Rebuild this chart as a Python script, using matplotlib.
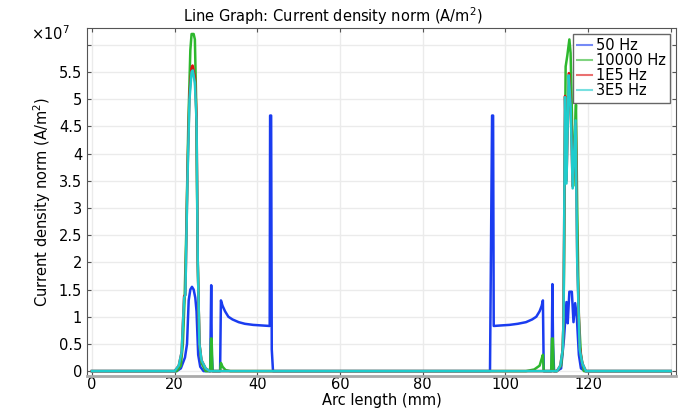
import matplotlib.pyplot as plt

# arc length (mm) and current density norm (x1e7 A/m^2)
x_50 = [0, 20.5, 21.5, 22.5, 23.0, 23.4, 23.8, 24.2, 24.6, 25.0, 25.3, 25.7, 26.2, 27.0,
        28.6, 28.85, 29.0, 29.2, 31.0, 31.2, 31.6, 32.2, 33.0, 34.0, 35.5, 37.0, 39.0, 41.0,
        43.0, 43.1, 43.35, 43.5, 43.8, 96.3, 96.8, 97.05, 97.2, 99.0, 101.0, 103.0, 105.0,
        106.5, 107.5, 108.3, 108.8, 109.1, 109.3, 111.2, 111.4, 111.55, 111.8, 112.4, 113.5,
        114.2, 114.8, 115.1, 115.5, 116.1, 116.5, 116.9, 117.3, 117.8, 118.3, 119.3, 140]
y_50 = [0, 0, 0.05, 0.25, 0.5, 1.3, 1.5, 1.55, 1.5, 1.35, 1.1, 0.3, 0.08, 0,
        0, 1.58, 0.3, 0, 0, 1.3, 1.2, 1.1, 1.0, 0.95, 0.9, 0.87, 0.85, 0.84,
        0.83, 4.7, 4.7, 0.4, 0, 0, 4.7, 4.7, 0.83, 0.84, 0.85, 0.87, 0.9,
        0.95, 1.0, 1.1, 1.2, 1.3, 0, 0, 1.6, 0.5, 0, 0, 0.05,
        0.6, 1.27, 0.88, 1.46, 1.46, 0.9, 1.25, 1.0, 0.3, 0.05, 0, 0]

x_1e4 = [0, 20.5, 21.5, 22.0, 22.4, 22.8, 23.3, 23.8, 24.1, 24.6, 24.9, 25.2, 25.6, 26.0,
         26.5, 27.5, 28.6, 28.8, 28.95, 29.15, 31.0, 31.2, 31.6, 32.3, 33.5, 105.0, 107.0,
         108.3, 108.9, 109.1, 109.3, 111.1, 111.3, 111.5, 111.7, 112.5, 113.5, 113.9, 114.1,
         114.6, 115.0, 115.5, 115.8, 116.1, 116.4, 116.8, 117.1, 117.4, 117.8, 118.3, 119.0, 140]
y_1e4 = [0, 0, 0.1, 0.5, 1.3, 2.5, 4.5, 5.9, 6.2, 6.2, 6.1, 5.0, 2.0, 0.5,
         0.15, 0, 0, 0.6, 0.6, 0, 0, 0.15, 0.08, 0.02, 0, 0, 0.03,
         0.1, 0.25, 0.3, 0, 0, 0.6, 0.6, 0, 0, 0.1, 0.4, 1.0,
         5.6, 5.8, 6.1, 5.85, 4.8, 3.4, 4.3, 4.9, 3.0, 1.0, 0.3, 0, 0]

x_1e5 = [0, 20.0, 21.0, 21.7, 22.3, 22.6, 23.1, 23.6, 24.1, 24.35, 24.9, 25.3, 25.6, 26.0,
         26.5, 27.5, 28.5, 112.5, 113.3, 113.9, 114.1, 114.45, 114.8, 115.4, 115.8, 116.3,
         117.05, 117.4, 118.0, 118.6, 119.5, 140]
y_1e5 = [0, 0, 0.1, 0.35, 1.38, 1.4, 3.6, 5.1, 5.58, 5.62, 5.4, 4.7, 2.0, 0.5,
         0.2, 0.05, 0, 0, 0.1, 0.4, 1.0, 5.06, 3.5, 5.48, 4.95, 3.4,
         4.56, 2.1, 0.45, 0.15, 0, 0]

x_3e5 = [0, 20.0, 21.0, 21.7, 22.3, 22.6, 23.1, 23.6, 24.1, 24.4, 24.9, 25.3, 25.6, 26.0,
         26.5, 27.5, 28.5, 112.5, 113.3, 113.9, 114.1, 114.45, 114.8, 115.35, 115.8, 116.3,
         117.0, 117.4, 118.0, 118.6, 119.5, 140]
y_3e5 = [0, 0, 0.1, 0.35, 1.35, 1.4, 3.5, 5.0, 5.5, 5.53, 5.3, 4.6, 2.0, 0.5,
         0.2, 0.05, 0, 0, 0.1, 0.4, 1.0, 5.04, 3.45, 5.44, 4.9, 3.36,
         4.61, 2.0, 0.4, 0.15, 0, 0]

series = [(x_50, y_50, '50 Hz', '#1a3cf0'),
          (x_1e4, y_1e4, '10000 Hz', '#2db82d'),
          (x_1e5, y_1e5, '1E5 Hz', '#dd1111'),
          (x_3e5, y_3e5, '3E5 Hz', '#1fcccc')]

y_ticks = [0, 0.5, 1, 1.5, 2, 2.5, 3, 3.5, 4, 4.5, 5, 5.5, 6]
y_tick_labels = ['0', '0.5', '1', '1.5', '2', '2.5', '3', '3.5', '4', '4.5', '5', '5.5', '']
x_ticks = [0, 20, 40, 60, 80, 100, 120, 140]
x_tick_labels = ['0', '20', '40', '60', '80', '100', '120', '']

fs = 10.5

fig = plt.figure(figsize=(6.83, 4.08), dpi=100)
ax = fig.add_axes([87 / 683, 32 / 408, 589 / 683, 348 / 408])

for xs, ys, name, col in series:
    ax.plot(xs, ys, color=col, lw=1.8, label=name)

ax.set_xlim(-1.2, 141.3)
ax.set_ylim(-0.09, 6.31)
ax.set_xticks(x_ticks)
ax.set_xticklabels(x_tick_labels)
ax.set_yticks(y_ticks)
ax.set_yticklabels(y_tick_labels)
ax.tick_params(direction='in', length=3, labelsize=fs, top=True, right=True,
               labeltop=False, labelright=False, color='#555555')
ax.tick_params(axis='x', pad=1)
ax.grid(True, color='#ebebeb', lw=1)
ax.set_axisbelow(True)
for side in ['left', 'right', 'top']:
    ax.spines[side].set_color('#555555')
ax.spines['bottom'].set_color('#aaaaaa')
ax.spines['bottom'].set_linewidth(2)

fig.text(333 / 683, 1 - 16 / 408, 'Line Graph: Current density norm (A/m$^2$)',
         fontsize=fs, ha='center', va='center')
ax.set_xlabel('Arc length (mm)', fontsize=fs, labelpad=0.5)
ax.set_ylabel('Current density norm (A/m$^2$)', fontsize=fs)
fig.text(0.045, 1 - 40 / 408, r'$\times$10$^7$', fontsize=fs)

leg = ax.legend(loc='upper right', fontsize=fs, fancybox=False, framealpha=1,
                edgecolor='#666666', handlelength=1.0, handletextpad=0.3,
                labelspacing=0.0, borderpad=0.3, borderaxespad=0.4)
for line in leg.get_lines():
    line.set_alpha(0.6)
    line.set_linewidth(1.5)

fig.savefig('out.png', dpi=100)
